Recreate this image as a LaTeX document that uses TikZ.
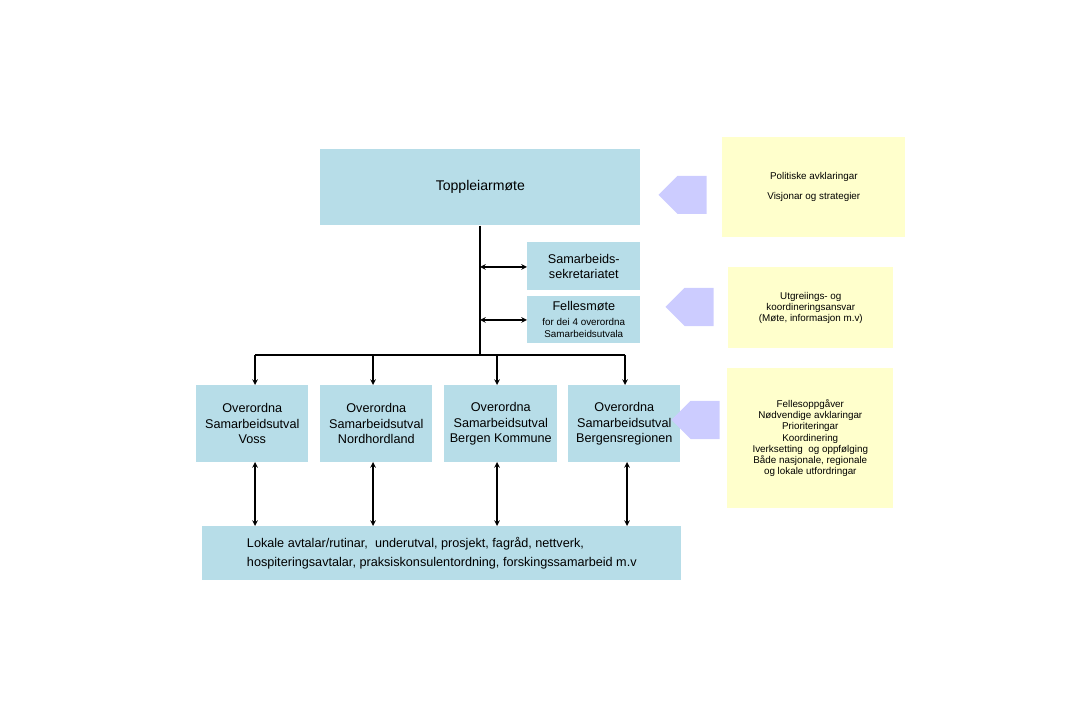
\documentclass[tikz,border=0pt]{standalone}
\usepackage{fontspec}
\setmainfont{Liberation Sans}
\usepackage{xcolor}
\usetikzlibrary{shapes,arrows,positioning,calc}
\definecolor{orgblue}{RGB}{183,221,232}
\definecolor{orgyellow}{RGB}{255,255,204}
\definecolor{orgpurple}{RGB}{204,204,255}

\begin{document}
\begin{tikzpicture}[
        x=0.025cm, y=-0.025cm,
        every node/.style={font=\small, align=center, inner sep=1pt},
        box/.style={rectangle, fill=orgblue, anchor=north west},
        note/.style={rectangle, fill=orgyellow, anchor=north west, font=\scriptsize},
        link/.style={<->, >=stealth, thick},
        down/.style={->, >=stealth, thick},
        push/.style={single arrow, fill=orgpurple, minimum height=1.2cm, minimum width=0.95cm, single arrow head extend=0pt, shape border rotate=180, inner sep=0pt}
    ]
        \useasboundingbox (0,0) rectangle (1080,720);
        % top level
        \node[box, minimum width=8cm, minimum height=1.9cm] (top) at (320,149) {\normalsize Toppleiarmøte};
        \node[box, minimum width=2.825cm, minimum height=1.2cm] (sekr) at (527,242) {Samarbeids-\\sekretariatet};
        \node[box, minimum width=2.825cm, minimum height=1.175cm] (felles) at (527,296) {Fellesmøte\\[-1pt]{\scriptsize for dei 4 overordna}\\[-2pt]{\scriptsize Samarbeidsutvala}};
        \coordinate (stem) at (480,355);
        \coordinate (sekrin) at (480,267);
        \coordinate (fellesin) at (480,320);
        \draw[thick] (top.south -| stem) -- (stem);
        \draw[link] (sekrin) -- (sekrin -| sekr.west);
        \draw[link] (fellesin) -- (fellesin -| felles.west);

        % councils
        \node[box, minimum width=2.8cm, minimum height=1.925cm] (voss) at (196,385) {Overordna\\Samarbeidsutval\\Voss};
        \node[box, minimum width=2.8cm, minimum height=1.925cm] (nord) at (320,385) {Overordna\\Samarbeidsutval\\Nordhordland};
        \node[box, minimum width=2.825cm, minimum height=1.925cm] (bergen) at (444,385) {Overordna\\Samarbeidsutval\\Bergen Kommune};
        \node[box, minimum width=2.8cm, minimum height=1.925cm] (region) at (568,385) {Overordna\\Samarbeidsutval\\Bergensregionen};
        \node[box, minimum width=11.975cm, minimum height=1.35cm, align=left] (lokal) at (202,526) {Lokale avtalar/rutinar,\ \ underutval, prosjekt, fagråd, nettverk,\\[2pt]hospiteringsavtalar, praksiskonsulentordning, forskingssamarbeid m.v};

        \draw[thick] (255,355) -- (625,355);
        \foreach \n/\x in {voss/255, nord/373, bergen/497, region/625} {
            \draw[down] (\x,355) -- (\x,385);
        }
        \foreach \n/\x in {voss/255, nord/373, bergen/497, region/627} {
            \draw[link] (\x,462) -- (\x,526);
        }

        % notes
        \node[note, minimum width=4.575cm, minimum height=2.5cm] (polit) at (722,137) {Politiske avklaringar\\[6pt]Visjonar og strategier};
        \node[note, minimum width=4.125cm, minimum height=2.025cm] (utgr) at (728,267) {Utgreiings- og\\koordineringsansvar\\(Møte, informasjon m.v)};
        \node[note, minimum width=4.15cm, minimum height=3.5cm] (oppg) at (727,368) {Fellesoppgåver\\Nødvendige avklaringar\\Prioriteringar\\Koordinering\\Iverksetting\ \ og oppfølging\\Både nasjonale,\ regionale\\og lokale utfordringar};
        \node[push] (pa) at (692,195) {};
        \node[push] (pb) at (699,307) {};
        \node[push] (pc) at (705,420) {};
\end{tikzpicture}
\end{document}
